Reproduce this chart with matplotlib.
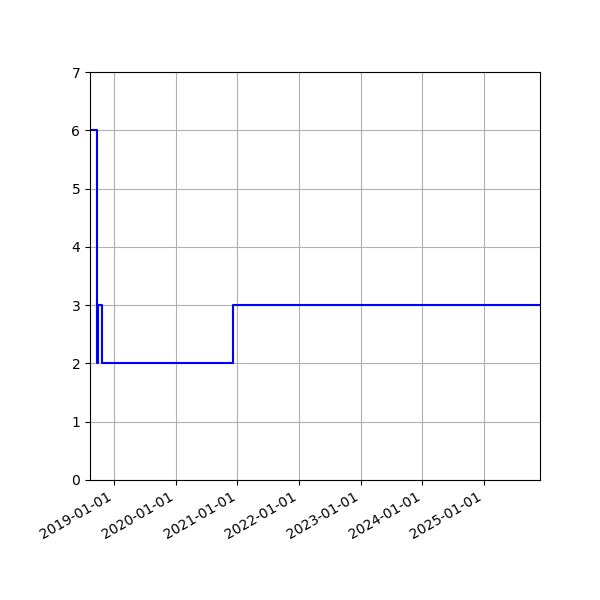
import numpy as np
import pandas as pd
import matplotlib
matplotlib.use("Agg")
import matplotlib.pyplot as plt
import matplotlib.dates as mdates

# step data: value holds from each date until the next one
dates = ["2018-08-12", "2018-09-21", "2018-09-26", "2018-10-22", "2020-12-08", "2025-11-28"]
values = [6, 2, 3, 2, 3, 3]

x = pd.to_datetime(dates)

fig, ax = plt.subplots(figsize=(6, 6), dpi=100)
ax.step(x, values, where="post", color="blue")
ax.set_xlim(x[0], x[-1])
ax.set_ylim(0, 7)
ax.xaxis.set_major_locator(mdates.YearLocator())
ax.xaxis.set_major_formatter(mdates.DateFormatter("%Y-%m-%d"))
ax.grid(True)
fig.autofmt_xdate()
fig.subplots_adjust(left=0.15, right=0.9, top=0.88, bottom=0.2)
fig.savefig("out.png")
